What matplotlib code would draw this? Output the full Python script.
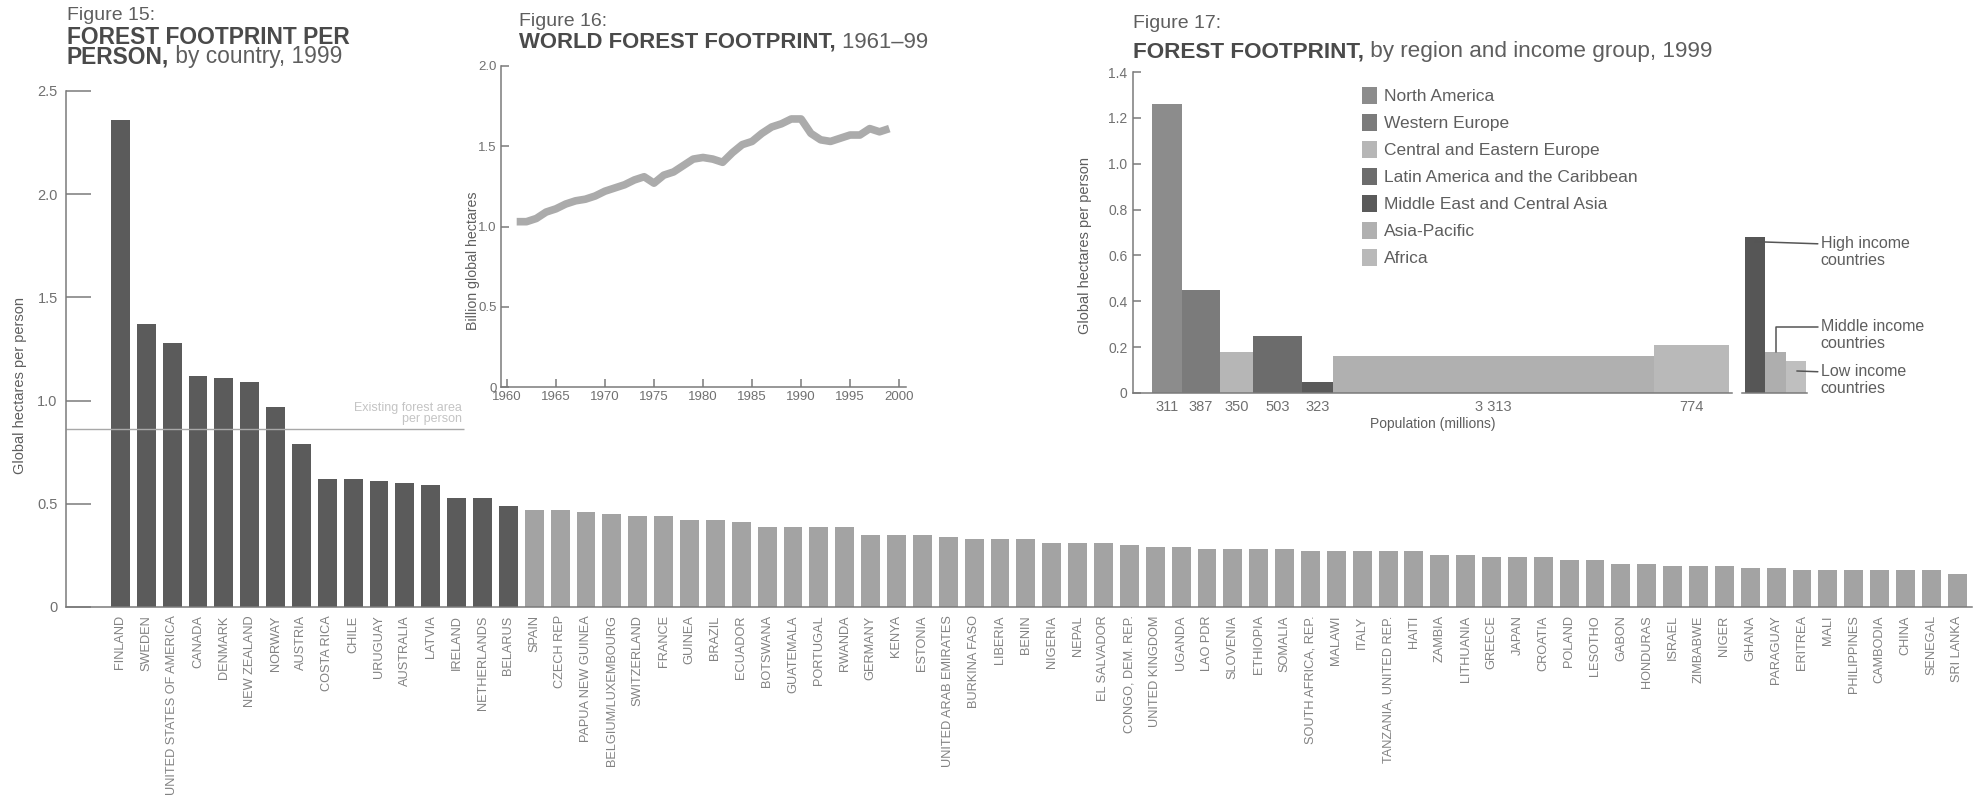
import numpy as np
import matplotlib.pyplot as plt

plt.rcParams['font.family'] = ['Liberation Sans', 'DejaVu Sans']

# figure 15: forest footprint per person, by country, 1999
countries = ["FINLAND", "SWEDEN", "UNITED STATES OF AMERICA", "CANADA", "DENMARK",
             "NEW ZEALAND", "NORWAY", "AUSTRIA", "COSTA RICA", "CHILE", "URUGUAY",
             "AUSTRALIA", "LATVIA", "IRELAND", "NETHERLANDS", "BELARUS", "SPAIN",
             "CZECH REP", "PAPUA NEW GUINEA", "BELGIUM/LUXEMBOURG", "SWITZERLAND",
             "FRANCE", "GUINEA", "BRAZIL", "ECUADOR", "BOTSWANA", "GUATEMALA",
             "PORTUGAL", "RWANDA", "GERMANY", "KENYA", "ESTONIA",
             "UNITED ARAB EMIRATES", "BURKINA FASO", "LIBERIA", "BENIN", "NIGERIA",
             "NEPAL", "EL SALVADOR", "CONGO, DEM. REP.", "UNITED KINGDOM", "UGANDA",
             "LAO PDR", "SLOVENIA", "ETHIOPIA", "SOMALIA", "SOUTH AFRICA, REP.",
             "MALAWI", "ITALY", "TANZANIA, UNITED REP.", "HAITI", "ZAMBIA",
             "LITHUANIA", "GREECE", "JAPAN", "CROATIA", "POLAND", "LESOTHO", "GABON",
             "HONDURAS", "ISRAEL", "ZIMBABWE", "NIGER", "GHANA", "PARAGUAY",
             "ERITREA", "MALI", "PHILIPPINES", "CAMBODIA", "CHINA", "SENEGAL",
             "SRI LANKA"]
footprint = [2.36, 1.37, 1.28, 1.12, 1.11, 1.09, 0.97, 0.79, 0.62, 0.62, 0.61,
             0.60, 0.59, 0.53, 0.53, 0.49, 0.47, 0.47, 0.46, 0.45, 0.44, 0.44,
             0.42, 0.42, 0.41, 0.39, 0.39, 0.39, 0.39, 0.35, 0.35, 0.35, 0.34,
             0.33, 0.33, 0.33, 0.31, 0.31, 0.31, 0.30, 0.29, 0.29, 0.28, 0.28,
             0.28, 0.28, 0.27, 0.27, 0.27, 0.27, 0.27, 0.25, 0.25, 0.24, 0.24,
             0.24, 0.23, 0.23, 0.21, 0.21, 0.20, 0.20, 0.20, 0.19, 0.19, 0.18,
             0.18, 0.18, 0.18, 0.18, 0.18, 0.16]
n_dark = 16
existing_forest = 0.86

# figure 16: world forest footprint, 1961-99
years = list(range(1961, 2000))
world_forest = [1.03, 1.03, 1.05, 1.09, 1.11, 1.14, 1.16, 1.17, 1.19, 1.22,
                1.24, 1.26, 1.29, 1.31, 1.27, 1.32, 1.34, 1.38, 1.42, 1.43,
                1.42, 1.40, 1.46, 1.51, 1.53, 1.58, 1.62, 1.64, 1.67, 1.67,
                1.58, 1.54, 1.53, 1.55, 1.57, 1.57, 1.61, 1.59, 1.61]

# figure 17: by region and income group, 1999
regions = ["North America", "Western Europe", "Central and Eastern Europe",
           "Latin America and the Caribbean", "Middle East and Central Asia",
           "Asia-Pacific", "Africa"]
region_pop = [311, 387, 350, 503, 323, 3313, 774]
region_fp = [1.26, 0.45, 0.18, 0.25, 0.05, 0.16, 0.21]
income_groups = ["High income\ncountries", "Middle income\ncountries", "Low income\ncountries"]
income_fp = [0.68, 0.18, 0.14]

region_colors = ['#8c8c8c', '#7b7b7b', '#b6b6b6', '#6c6c6c', '#5a5a5a', '#b0b0b0', '#b9b9b9']
income_colors = ['#565656', '#aeaeae', '#bfbfbf']
TXT = '#5e5e5e'
AX = '#7a7a7a'

W, H = 1979, 800
def box(l, t, r, b):
  # pixel box -> figure fraction
  return [l / W, 1 - b / H, (r - l) / W, (b - t) / H]

def clean(ax, keep=('left', 'bottom')):
  for s in ['top', 'right', 'left', 'bottom']:
    if s in keep:
      ax.spines[s].set_color(AX)
      ax.spines[s].set_linewidth(1.1)
    else:
      ax.spines[s].set_visible(False)

fig = plt.figure(figsize=(W / 100, H / 100), dpi=100)

# ---- figure 15
ax = fig.add_axes(box(66, 91, 1972, 607))
x = np.arange(len(countries))
cols = ['#5b5b5b' if i < n_dark else '#a3a3a3' for i in x]
ax.bar(x, footprint, width=0.73, color=cols, linewidth=0)
ax.set_xlim(-2.1, len(countries) - 0.43)
ax.set_ylim(0, 2.5)
clean(ax)
ax.set_yticks([0, 0.5, 1.0, 1.5, 2.0, 2.5], ['0', '0.5', '1.0', '1.5', '2.0', '2.5'])
ax.tick_params(axis='y', direction='in', length=18, width=1.1, color=AX,
               labelsize=10.5, labelcolor='#707070', pad=6)
ax.set_xticks(x, countries, rotation=90, fontsize=9.2, color='#828282')
ax.tick_params(axis='x', length=0, pad=6)
ax.hlines(existing_forest, -2.1, 13.3, color='#a8a8a8', lw=1)
ax.text(13.2, existing_forest + 0.02, "Existing forest area\nper person", ha='right',
        va='bottom', fontsize=9, color='#c4c4c4', linespacing=0.95)
fig.text(20 / W, 1 - 386 / H, "Global hectares per person", rotation=90, ha='center',
         va='center', fontsize=10.5, color=TXT)

def title(xp, y1, y2, label, bold, rest, size=16):
  if label:
    fig.text(xp / W, 1 - y1 / H, label, fontsize=14, color=TXT, va='center')
  t = fig.text(xp / W, 1 - y2 / H, bold, fontsize=size, weight='bold', color='#4a4a4a',
               va='center')
  if rest:
    ax.annotate(rest, xy=(1, 0), xycoords=t, va='bottom', ha='left', fontsize=size,
                color=TXT, annotation_clip=False)

title(67, 15, 37, "Figure 15:", "FOREST FOOTPRINT PER", None, size=16.4)
title(67, 15, 57, "", "PERSON,", " by country, 1999", size=16.4)

# ---- figure 16
a16 = fig.add_axes(box(501, 66, 906, 387))
a16.plot(years, world_forest, color='#ababab', lw=5.5, solid_joinstyle='round',
         solid_capstyle='butt')
a16.set_xlim(1959.4, 2000.7)
a16.set_ylim(0, 2.0)
clean(a16)
a16.set_xticks(range(1960, 2001, 5))
a16.set_yticks([0, 0.5, 1.0, 1.5, 2.0], ['0', '0.5', '1.0', '1.5', '2.0'])
a16.tick_params(direction='in', length=6, width=1.1, color=AX, labelsize=9.5,
                labelcolor='#707070', pad=3)
fig.text(473 / W, 1 - 261 / H, "Billion global hectares", rotation=90, ha='center',
         va='center', fontsize=10.2, color=TXT)
title(519, 22, 42, "Figure 16:", "WORLD FOREST FOOTPRINT,", " 1961\u201399", size=15.9)

# ---- figure 17
a17 = fig.add_axes(box(1133, 72, 1732, 393))
lefts = np.concatenate([[0], np.cumsum(region_pop)[:-1]])
a17.bar(lefts, region_fp, width=region_pop, align='edge', color=region_colors,
        linewidth=0, label=regions)
a17.set_xlim(-196, sum(region_pop) + 31)
a17.set_ylim(0, 1.4)
clean(a17)
a17.set_xticks(lefts + np.array(region_pop) / 2,
               [f"{p:,}".replace(',', ' ') for p in region_pop])
a17.tick_params(axis='x', length=0, pad=5, labelsize=10.5, labelcolor='#707070')
a17.set_yticks(np.arange(0, 1.41, 0.2), ['0', '0.2', '0.4', '0.6', '0.8', '1.0', '1.2', '1.4'])
a17.tick_params(axis='y', direction='in', length=6, width=1.1, color=AX, labelsize=10,
                labelcolor='#707070', pad=4)
a17.set_xlabel("Population (millions)", fontsize=10, color=TXT, labelpad=2)
fig.text(1085 / W, 1 - 245 / H, "Global hectares per person", rotation=90, ha='center',
         va='center', fontsize=10.5, color=TXT)
leg = a17.legend(loc='upper left', bbox_to_anchor=(0.382, 0.953), frameon=False,
                 fontsize=12.5, handlelength=0.86, handleheight=1.1, handletextpad=0.4,
                 labelspacing=0.56, borderpad=0, borderaxespad=0)
for t in leg.get_texts():
  t.set_color(TXT)
title(1133, 23, 52, "Figure 17:", "FOREST FOOTPRINT,", " by region and income group, 1999",
      size=16.2)

# income groups
ai = fig.add_axes(box(1742, 72, 1807, 393))
ai.bar(np.arange(len(income_fp)), income_fp, width=1, align='edge', color=income_colors,
       linewidth=0)
ai.set_xlim(-0.15, 3.05)
ai.set_ylim(0, 1.4)
clean(ai, keep=('bottom',))
ai.set_xticks([])
ai.set_yticks([])
ai.patch.set_alpha(0)

lbl = dict(fontsize=11.5, color=TXT, va='center', ha='left', annotation_clip=False)
line = dict(arrowstyle='-', color='#555555', lw=1.1, shrinkA=0, shrinkB=0, relpos=(0, 0.75))
ai.annotate(income_groups[0], xy=(0.5, income_fp[0] - 0.02), xytext=(3.72, income_fp[0] - 0.065),
            arrowprops=line, **lbl)
ai.annotate(income_groups[1], xy=(1.5, income_fp[1]), xytext=(3.72, income_fp[1] + 0.073),
            arrowprops=dict(line, connectionstyle='angle,angleA=0,angleB=90,rad=0'), **lbl)
ai.annotate(income_groups[2], xy=(2.55, income_fp[2] - 0.044), xytext=(3.72, income_fp[2] - 0.083),
            arrowprops=line, **lbl)

fig.savefig("out.png", dpi=100)
